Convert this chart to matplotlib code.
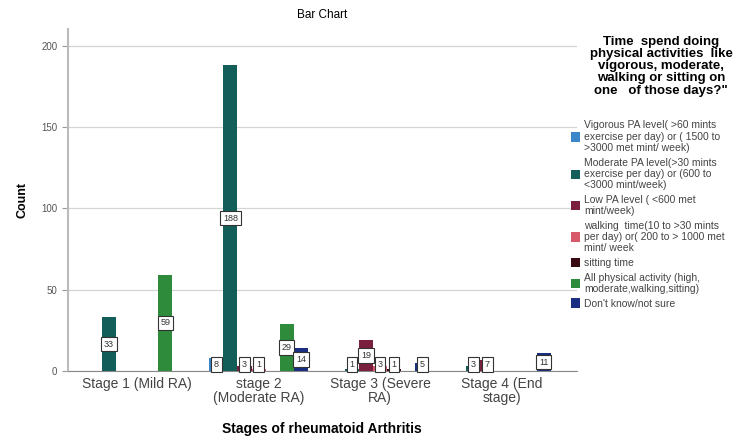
import numpy as np
import matplotlib.pyplot as plt

plt.rcParams['font.family'] = ['Liberation Sans', 'DejaVu Sans']

stages = ["Stage 1 (Mild RA)", "stage 2\n(Moderate RA)", "Stage 3 (Severe\nRA)", "Stage 4 (End\nstage)"]

groups = [
    "Vigorous PA level( >60 mints\nexercise per day) or ( 1500 to\n>3000 met mint/ week)",
    "Moderate PA level(>30 mints\nexercise per day) or (600 to\n<3000 mint/week)",
    "Low PA level ( <600 met\nmint/week)",
    "walking  time(10 to >30 mints\nper day) or( 200 to > 1000 met\nmint/ week",
    "sitting time",
    "All physical activity (high,\nmoderate,walking,sitting)",
    "Don't know/not sure",
]
colors = ["#3b86c8", "#135e58", "#7b1f3f", "#d65a6a", "#3a0a12", "#2e8b3c", "#1b2f82"]

# counts per stage, one list per activity group (0 = no bar)
vigorous = [0, 8, 0, 0]
moderate = [33, 188, 1, 3]
low_pa = [0, 3, 19, 7]
walking = [0, 1, 3, 0]
sitting = [0, 0, 1, 0]
all_pa = [59, 29, 0, 0]
dont_know = [0, 14, 5, 11]
counts = [vigorous, moderate, low_pa, walking, sitting, all_pa, dont_know]

fig = plt.figure(figsize=(7.54, 4.38), dpi=100)
ax = fig.add_axes([0.090, 0.153, 0.675, 0.78])

x = np.arange(len(stages))
w = 0.116
for i, (vals, col, name) in enumerate(zip(counts, colors, groups)):
    pos = x + (i - 3) * w
    ax.bar(pos, vals, width=w, color=col, label=name, zorder=3)
    for p, v in zip(pos, vals):
        if v == 0:
            continue
        ax.text(p, max(v / 2, 4), str(v), ha='center', va='center', fontsize=6.5,
                color='#333333', zorder=4,
                bbox=dict(boxstyle='square,pad=0.3', fc='white', ec='#333333', lw=0.8))

ax.set_xlim(-0.57, 3.62)
ax.set_ylim(0, 210)
ax.set_yticks([0, 50, 100, 150, 200])
ax.set_xticks(x)
ax.set_xticklabels(stages, fontsize=10, color='#444444', linespacing=1.05)
ax.tick_params(axis='y', labelsize=7, labelcolor='#555555', length=4, color='#999999')
ax.tick_params(axis='x', length=0, pad=4)
ax.grid(axis='y', color='#d4d4d4', lw=0.9, zorder=0)
for s in ['top', 'right']:
    ax.spines[s].set_visible(False)
ax.spines['left'].set_color('#bbbbbb')
ax.spines['left'].set_linewidth(1.5)
ax.spines['bottom'].set_color('#888888')

ax.set_title("Bar Chart", fontsize=8.5, pad=8)
ax.set_xlabel("Stages of rheumatoid Arthritis", fontsize=10, fontweight='bold', labelpad=12)
ax.set_ylabel("Count", fontsize=9, fontweight='bold', labelpad=9)

# legend heading drawn on its own so the gap to the entries can be set
fig.text(0.877, 0.918,
         "Time  spend doing\nphysical activities  like\nvigorous, moderate,\nwalking or sitting on\none   of those days?\"",
         ha='center', va='top', fontsize=9.5, fontweight='bold', linespacing=1.02)

leg = fig.legend(loc='upper left', bbox_to_anchor=(0.757, 0.725), frameon=False,
                 fontsize=7.5, handlelength=0.9, handleheight=1.0, handletextpad=0.35,
                 labelspacing=0.45, borderpad=0, borderaxespad=0)
for t in leg.get_texts():
    t.set_color('#444444')
    t.set_linespacing(1.15)

fig.savefig("out.png", dpi=100)
